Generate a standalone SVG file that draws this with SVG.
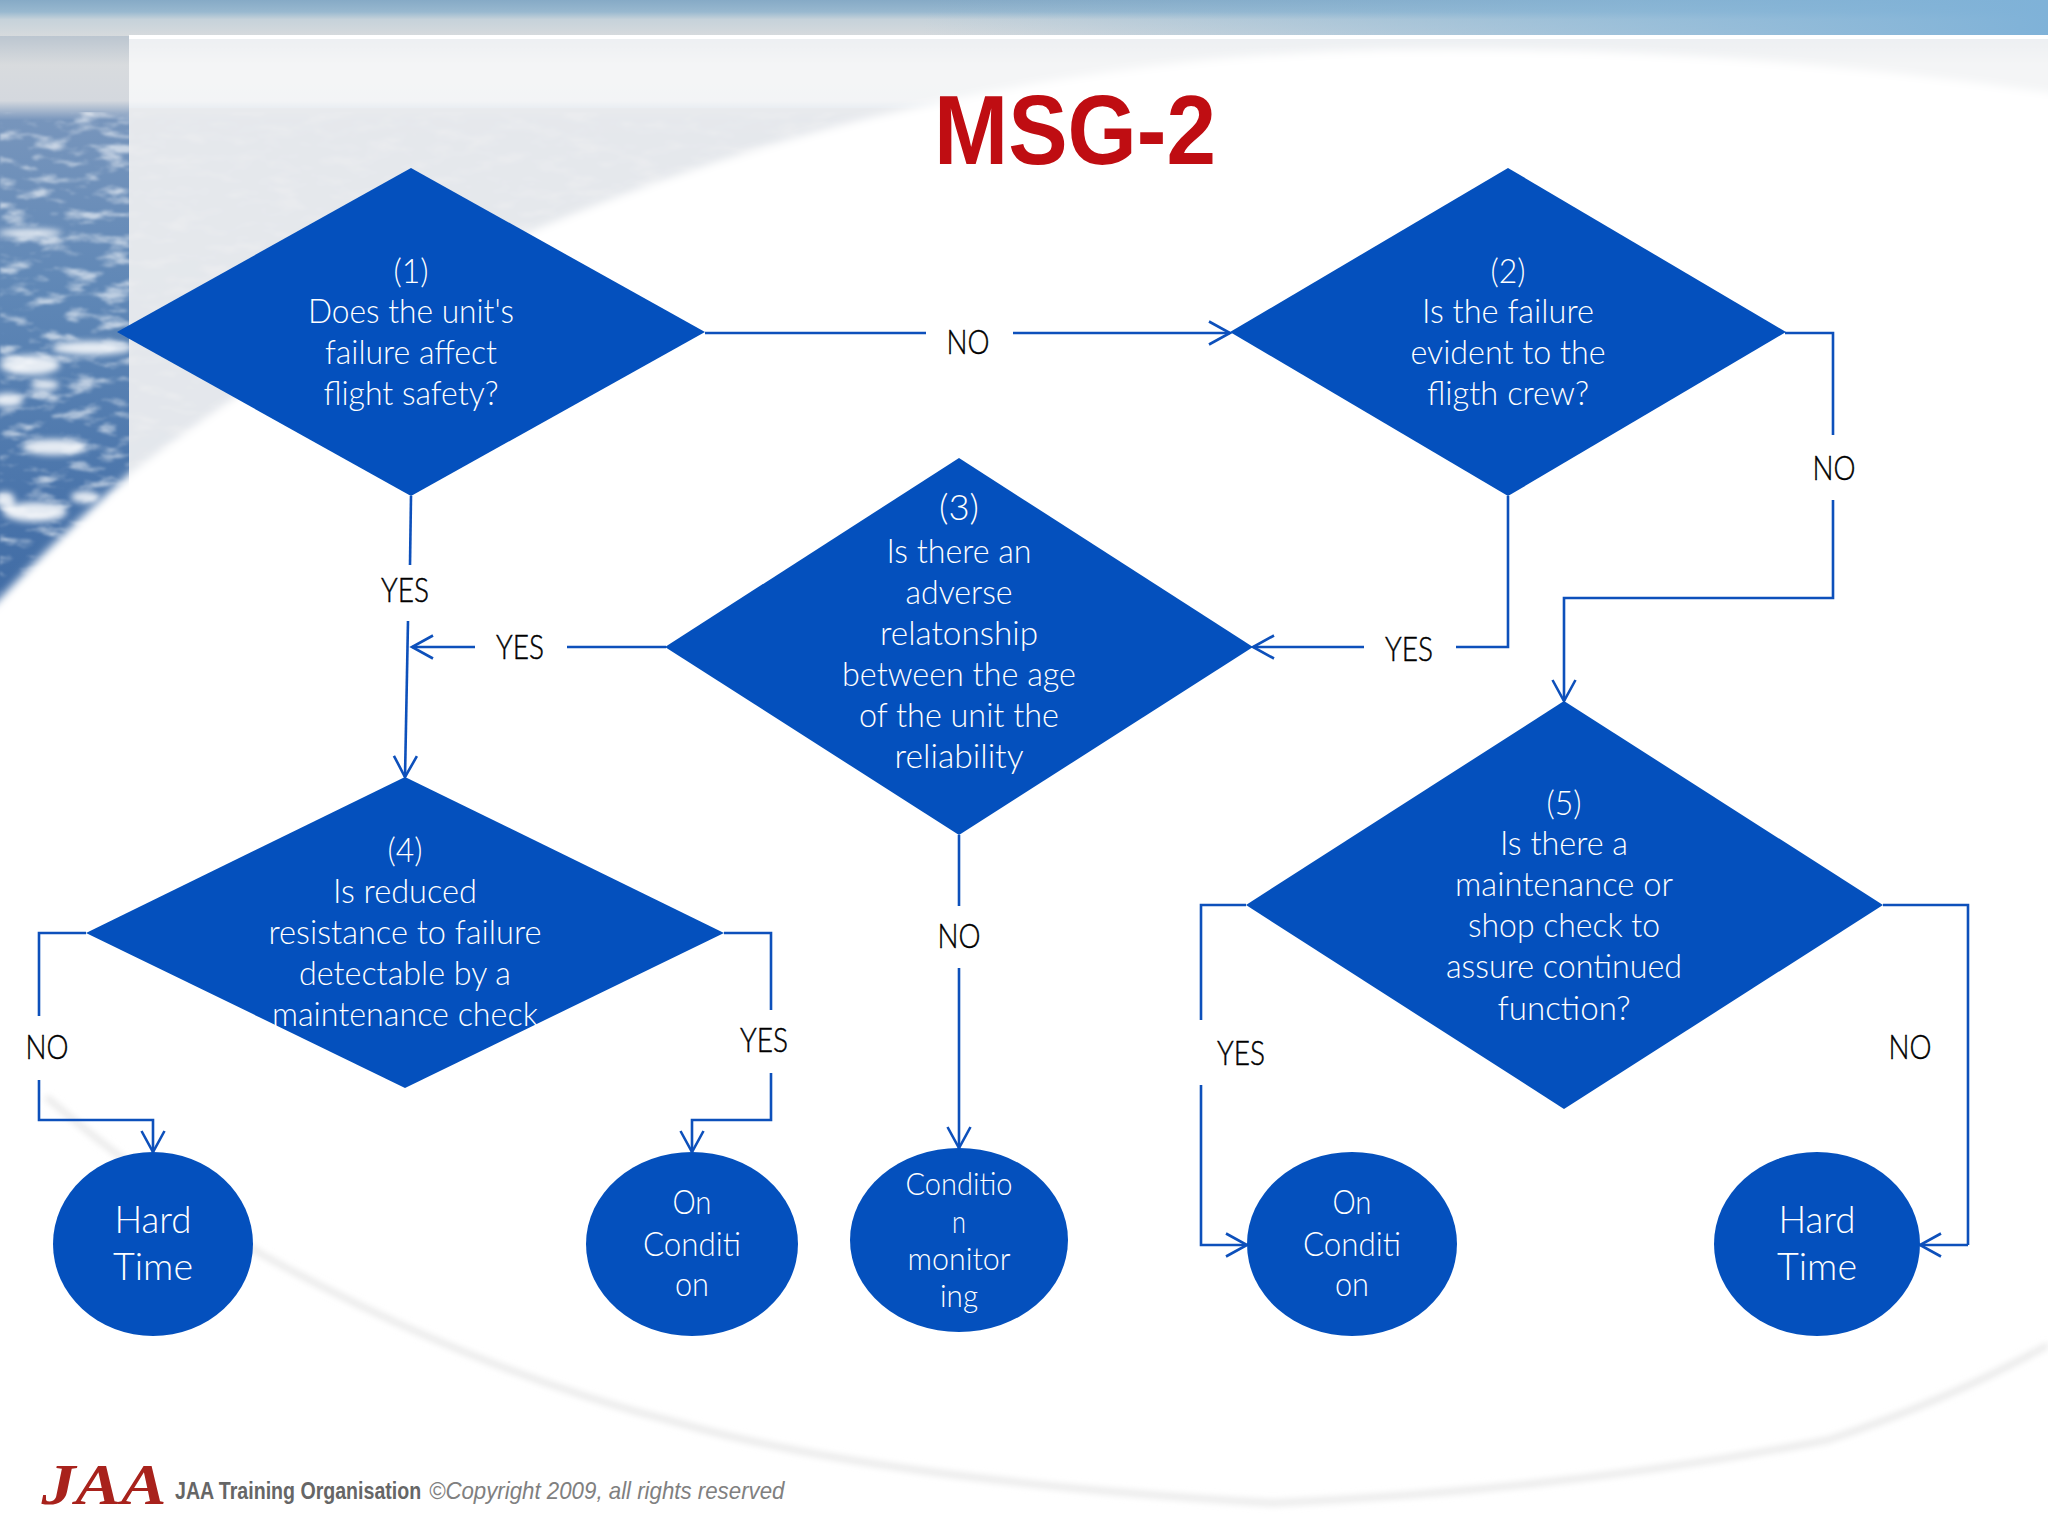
<svg xmlns="http://www.w3.org/2000/svg" width="2048" height="1536" viewBox="0 0 2048 1536">
<style>
text{font-family:"Lato","Open Sans","Liberation Sans",sans-serif;font-weight:300;text-anchor:middle}
.n{fill:#0450bd}
.w{fill:#fff;font-size:33px}
.w3{fill:#fff;font-size:36px}
.b{fill:#000;font-size:34px;font-weight:300;stroke:#000;stroke-width:.45}
.c{fill:none;stroke:#0d50bb;stroke-width:2.6}
.a{marker-end:url(#arr)}
.cl{fill:#fff}
</style>
<defs>
<marker id="arr" markerUnits="userSpaceOnUse" markerWidth="30" markerHeight="34" refX="24" refY="15" orient="auto" viewBox="0 0 30 30" overflow="visible"><path d="M3,3.500 L24,15 L3,26.500" fill="none" stroke="#0d50bb" stroke-width="2.600"/></marker>
<linearGradient id="sky" x1="0" y1="0" x2="0" y2="1"><stop offset="0" stop-color="#86aac6"/><stop offset=".018" stop-color="#98b8cf"/><stop offset=".03" stop-color="#c6d2da"/><stop offset=".055" stop-color="#d6dadd"/><stop offset=".056" stop-color="#bcc6d0"/><stop offset=".1" stop-color="#d8dbde"/><stop offset=".155" stop-color="#d4d8de"/><stop offset=".185" stop-color="#7795bc"/><stop offset=".45" stop-color="#5f87b6"/><stop offset="1" stop-color="#3b67a2"/></linearGradient>
<linearGradient id="topr" x1="0" y1="0" x2="1" y2="0"><stop offset=".45" stop-color="#86b4d4" stop-opacity="0"/><stop offset=".8" stop-color="#86b6d8" stop-opacity=".7"/><stop offset="1" stop-color="#7fb2d8"/></linearGradient>
<filter id="tex" x="0" y="0" width="1" height="1"><feTurbulence type="fractalNoise" baseFrequency="0.03 0.09" numOctaves="4" seed="7"/><feColorMatrix values="0 0 0 0 1 0 0 0 0 1 0 0 0 0 1 3.500 0 0 0 -1.750"/><feGaussianBlur stdDeviation="1"/></filter>
<filter id="soft" x="-20%" y="-40%" width="140%" height="180%"><feGaussianBlur stdDeviation="3"/></filter>
<filter id="edge" x="-5%" y="-5%" width="110%" height="110%"><feGaussianBlur stdDeviation="4"/></filter>
</defs>
<g id="background">
<rect width="2048" height="650" fill="url(#sky)"/>
<rect width="2048" height="35" fill="url(#topr)"/>
<rect y="112" width="2048" height="500" filter="url(#tex)" opacity=".6"/>
<g class="cl" filter="url(#soft)" opacity=".85">
<ellipse cx="30" cy="365" rx="30" ry="10"/><ellipse cx="92" cy="348" rx="40" ry="7"/><ellipse cx="45" cy="385" rx="14" ry="5"/><ellipse cx="8" cy="400" rx="15" ry="7"/><ellipse cx="54" cy="447" rx="32" ry="8"/><ellipse cx="35" cy="512" rx="32" ry="10"/><ellipse cx="5" cy="500" rx="10" ry="8"/><ellipse cx="85" cy="497" rx="14" ry="6"/><ellipse cx="30" cy="233" rx="32" ry="4"/>
</g>
<rect x="129" y="35" width="1919" height="620" fill="#fff" fill-opacity=".72"/>
<rect x="129" y="108" width="1919" height="547" fill="#e9eaec" fill-opacity=".8"/>
<rect x="129" y="35" width="1919" height="4" fill="#fff"/>
<path d="M-60,660 L0,598 Q60,535 129,474 Q330,320 536,229 Q700,160 872,117 Q1130,55 1388,50 Q1750,45 2100,100 V1536 H-60 Z" fill="#fff" filter="url(#edge)"/>
<path d="M46,1097 Q150,1185 261,1254 Q470,1370 679,1423 Q880,1480 1273,1503 Q1570,1490 1828,1440 Q1950,1400 2048,1345" fill="none" stroke="#e8e8e8" stroke-width="6" filter="url(#soft)"/>
</g>
<g id="connectors">
<path class="c" d="M705,333 H926"/><path class="c a" d="M1013,333 H1230"/>
<path class="c" d="M1785,333 H1833 V435"/><path class="c a" d="M1833,500 V598 H1564 V701"/>
<path class="c" d="M1508,496 V647 H1456"/><path class="c a" d="M1364,647 H1253"/>
<path class="c" d="M411,496 L410,565"/><path class="c a" d="M408,621 L405,777"/>
<path class="c" d="M666,647 H567"/><path class="c a" d="M475,647 H412"/>
<path class="c" d="M959,835 V906"/><path class="c a" d="M959,968 V1148"/>
<path class="c" d="M86,933 H39 V1016"/><path class="c a" d="M39,1080 V1120 H153 V1152"/>
<path class="c" d="M724,933 H771 V1010"/><path class="c a" d="M771,1073 V1120 H692 V1152"/>
<path class="c" d="M1246,905 H1201 V1020"/><path class="c a" d="M1201,1085 V1245 H1247"/>
<path class="c" d="M1883,905 H1968 V1245"/><path class="c a" d="M1968,1245 H1920"/>
</g>
<g id="labels">
<text class="b" x="968" y="354" textLength="43" lengthAdjust="spacingAndGlyphs">NO</text>
<text class="b" x="1834" y="480" textLength="43" lengthAdjust="spacingAndGlyphs">NO</text>
<text class="b" x="1409" y="661" textLength="48" lengthAdjust="spacingAndGlyphs">YES</text>
<text class="b" x="405" y="602" textLength="48" lengthAdjust="spacingAndGlyphs">YES</text>
<text class="b" x="520" y="659" textLength="48" lengthAdjust="spacingAndGlyphs">YES</text>
<text class="b" x="959" y="948" textLength="43" lengthAdjust="spacingAndGlyphs">NO</text>
<text class="b" x="47" y="1059" textLength="43" lengthAdjust="spacingAndGlyphs">NO</text>
<text class="b" x="764" y="1052" textLength="48" lengthAdjust="spacingAndGlyphs">YES</text>
<text class="b" x="1241" y="1065" textLength="48" lengthAdjust="spacingAndGlyphs">YES</text>
<text class="b" x="1910" y="1059" textLength="43" lengthAdjust="spacingAndGlyphs">NO</text>
</g>
<g id="title"><text x="1075" y="164" textLength="282" lengthAdjust="spacingAndGlyphs" style="font-family:'Liberation Sans Narrow','Liberation Sans',sans-serif;font-weight:700;font-size:99px;fill:#bf0d12">MSG-2</text></g>
<g id="node1"><polygon class="n" points="411,168 705,332 411,496 117,332"/>
<text class="w" x="411" y="283" textLength="35" lengthAdjust="spacingAndGlyphs">(1)</text>
<text class="w" x="411" y="323" textLength="206" lengthAdjust="spacingAndGlyphs">Does the unit's</text>
<text class="w" x="411" y="364" textLength="172" lengthAdjust="spacingAndGlyphs">failure affect</text>
<text class="w" x="411" y="405" textLength="175" lengthAdjust="spacingAndGlyphs">flight safety?</text></g>
<g id="node2"><polygon class="n" points="1508,168 1786,332 1508,496 1230,332"/>
<text class="w" x="1508" y="283" textLength="35" lengthAdjust="spacingAndGlyphs">(2)</text>
<text class="w" x="1508" y="323" textLength="172" lengthAdjust="spacingAndGlyphs">Is the failure</text>
<text class="w" x="1508" y="364" textLength="195" lengthAdjust="spacingAndGlyphs">evident to the</text>
<text class="w" x="1508" y="405" textLength="162" lengthAdjust="spacingAndGlyphs">fligth crew?</text></g>
<g id="node3"><polygon class="n" points="959,458 1253,647 959,835 665,647"/>
<text class="w3" x="959" y="520" textLength="40" lengthAdjust="spacingAndGlyphs">(3)</text>
<text class="w" x="959" y="563" textLength="145" lengthAdjust="spacingAndGlyphs">Is there an</text>
<text class="w" x="959" y="604" textLength="107" lengthAdjust="spacingAndGlyphs">adverse</text>
<text class="w" x="959" y="645" textLength="158" lengthAdjust="spacingAndGlyphs">relatonship</text>
<text class="w" x="959" y="686" textLength="234" lengthAdjust="spacingAndGlyphs">between the age</text>
<text class="w" x="959" y="727" textLength="200" lengthAdjust="spacingAndGlyphs">of the unit the</text>
<text class="w" x="959" y="768" textLength="129" lengthAdjust="spacingAndGlyphs">reliability</text></g>
<g id="node4"><polygon class="n" points="405,777 724,933 405,1088 86,933"/>
<text class="w" x="405" y="862" textLength="35" lengthAdjust="spacingAndGlyphs">(4)</text>
<text class="w" x="405" y="903" textLength="144" lengthAdjust="spacingAndGlyphs">Is reduced</text>
<text class="w" x="405" y="944" textLength="273" lengthAdjust="spacingAndGlyphs">resistance to failure</text>
<text class="w" x="405" y="985" textLength="212" lengthAdjust="spacingAndGlyphs">detectable by a</text>
<text class="w" x="405" y="1026" textLength="266" lengthAdjust="spacingAndGlyphs">maintenance check</text></g>
<g id="node5"><polygon class="n" points="1564,701 1883,905 1564,1109 1246,905"/>
<text class="w" x="1564" y="815" textLength="35" lengthAdjust="spacingAndGlyphs">(5)</text>
<text class="w" x="1564" y="855" textLength="128" lengthAdjust="spacingAndGlyphs">Is there a</text>
<text class="w" x="1564" y="896" textLength="218" lengthAdjust="spacingAndGlyphs">maintenance or</text>
<text class="w" x="1564" y="937" textLength="192" lengthAdjust="spacingAndGlyphs">shop check to</text>
<text class="w" x="1564" y="978" textLength="236" lengthAdjust="spacingAndGlyphs">assure continued</text>
<text class="w" x="1564" y="1020" textLength="133" lengthAdjust="spacingAndGlyphs">function?</text></g>
<g id="node6"><ellipse class="n" cx="153" cy="1244" rx="100" ry="92"/>
<text class="w3" x="153" y="1233" style="font-size:38px" textLength="77" lengthAdjust="spacingAndGlyphs">Hard</text>
<text class="w3" x="153" y="1280" style="font-size:38px" textLength="80" lengthAdjust="spacingAndGlyphs">Time</text></g>
<g id="node7"><ellipse class="n" cx="692" cy="1244" rx="106" ry="92"/>
<text class="w" x="692" y="1214" textLength="39" lengthAdjust="spacingAndGlyphs">On</text>
<text class="w" x="692" y="1256" textLength="98" lengthAdjust="spacingAndGlyphs">Conditi</text>
<text class="w" x="692" y="1296" textLength="34" lengthAdjust="spacingAndGlyphs">on</text></g>
<g id="node8"><ellipse class="n" cx="959" cy="1240" rx="109" ry="92"/>
<text class="w" x="959" y="1195" style="font-size:31px" textLength="107" lengthAdjust="spacingAndGlyphs">Conditio</text>
<text class="w" x="959" y="1233" style="font-size:31px" textLength="14" lengthAdjust="spacingAndGlyphs">n</text>
<text class="w" x="959" y="1270" style="font-size:31px" textLength="103" lengthAdjust="spacingAndGlyphs">monitor</text>
<text class="w" x="959" y="1307" style="font-size:31px" textLength="38" lengthAdjust="spacingAndGlyphs">ing</text></g>
<g id="node9"><ellipse class="n" cx="1352" cy="1244" rx="105" ry="92"/>
<text class="w" x="1352" y="1214" textLength="39" lengthAdjust="spacingAndGlyphs">On</text>
<text class="w" x="1352" y="1256" textLength="98" lengthAdjust="spacingAndGlyphs">Conditi</text>
<text class="w" x="1352" y="1296" textLength="34" lengthAdjust="spacingAndGlyphs">on</text></g>
<g id="node10"><ellipse class="n" cx="1817" cy="1244" rx="103" ry="92"/>
<text class="w3" x="1817" y="1233" style="font-size:38px" textLength="77" lengthAdjust="spacingAndGlyphs">Hard</text>
<text class="w3" x="1817" y="1280" style="font-size:38px" textLength="80" lengthAdjust="spacingAndGlyphs">Time</text></g>
<g id="footer">
<text x="104" y="1504" textLength="125" lengthAdjust="spacingAndGlyphs" style="font-family:'Liberation Serif',serif;font-weight:700;font-style:italic;font-size:56px;fill:#a8221c">JAA</text>
<text transform="translate(175,1499) scale(.816,1)" style="text-anchor:start;font-family:'Liberation Sans',sans-serif;font-size:24px;font-weight:700;fill:#666">JAA Training Organisation</text>
<text transform="translate(429,1499) scale(.928,1)" style="text-anchor:start;font-family:'Liberation Sans',sans-serif;font-size:24px;font-weight:400;font-style:italic;fill:#808080">©Copyright 2009, all rights reserved</text>
</g>
</svg>
